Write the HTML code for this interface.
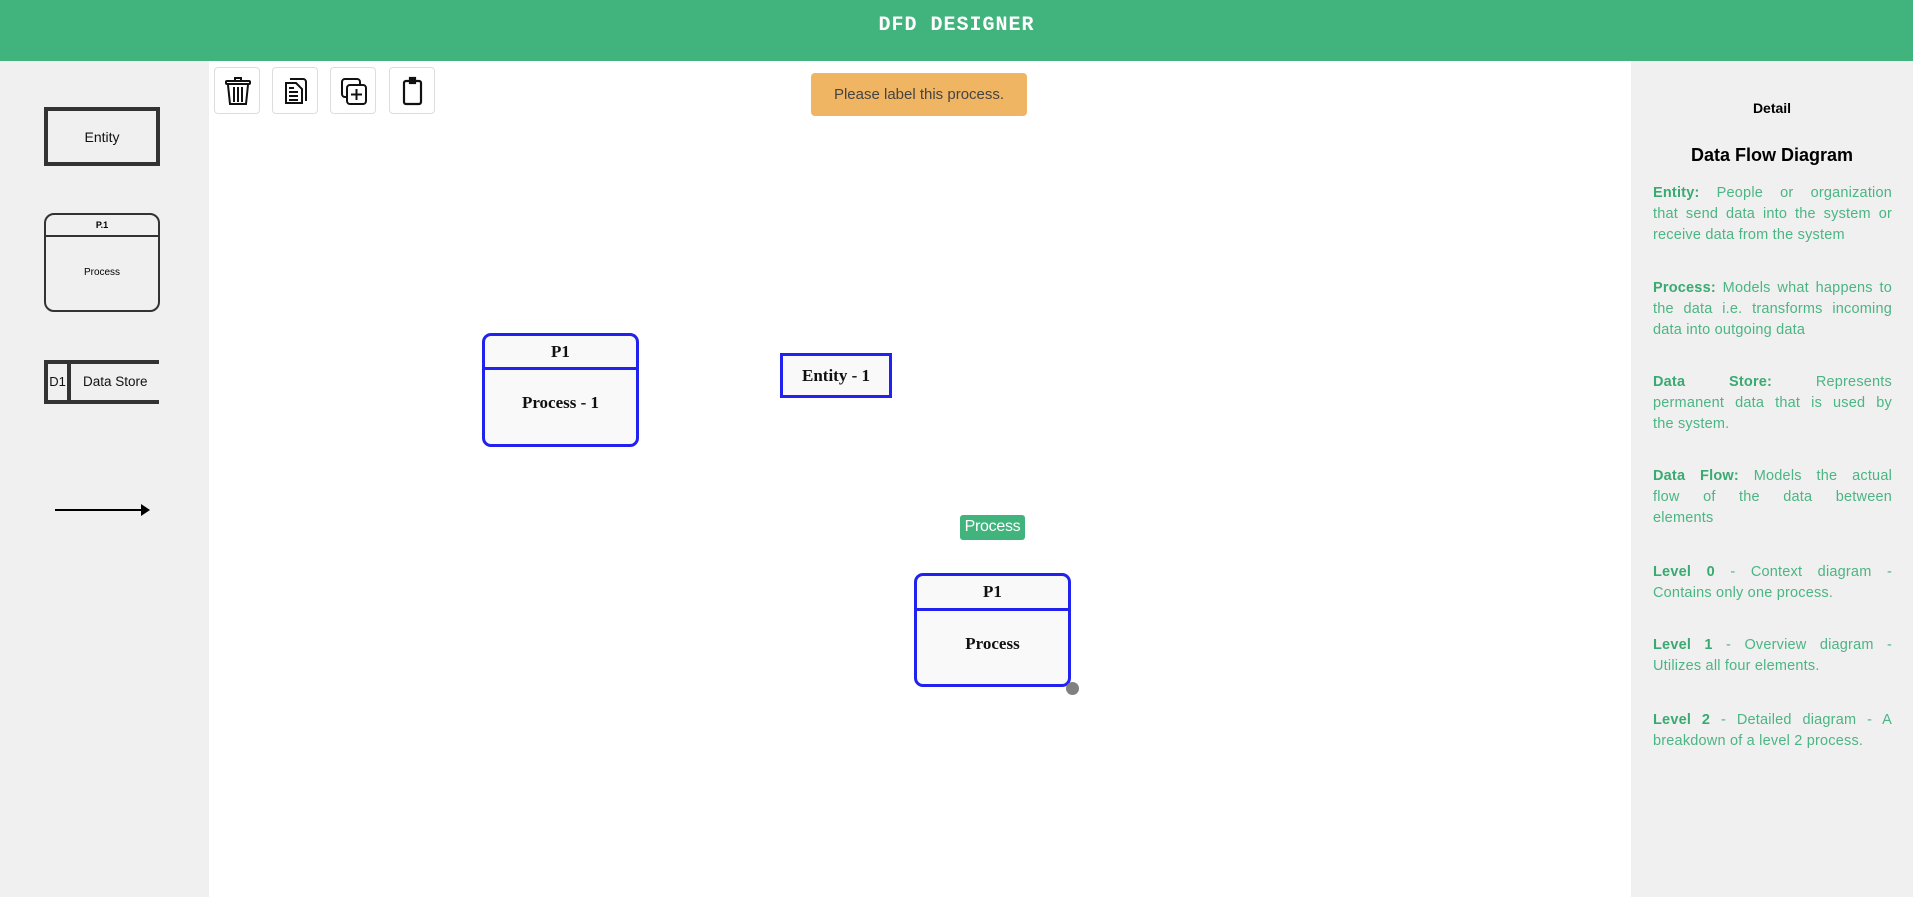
<!DOCTYPE html>
<html><head><meta charset="utf-8"><style>
*{margin:0;padding:0;box-sizing:border-box}
body{width:1913px;height:897px;position:relative;background:#eff0ef;font-family:"Liberation Sans",sans-serif;overflow:hidden}
.abs{position:absolute}
#hdr{left:0;top:0;width:1913px;height:61px;background:#41b37c;color:#fff;font-family:"Liberation Mono",monospace;font-weight:bold;font-size:20px;text-align:center;line-height:52px;letter-spacing:1px}
#canvas{left:209px;top:61px;width:1422px;height:836px;background:#fff}
.btn{width:46px;height:47px;top:67px;border:1px solid #ddd;border-radius:4px;background:#fff}
.btn svg{position:absolute;left:8px;top:8px}
.toast{left:811px;top:73px;width:216px;height:43px;background:#f0b562;border-radius:4px;color:#444;font-size:15px;text-align:center;line-height:43px}
.pal{border:3px solid #333;}
.node{border:3px solid #2222ee;background:#f9f9f9;font-family:"Liberation Serif",serif;font-weight:bold;color:#111;text-align:center}
.p{left:1653px;width:239px;font-size:14.5px;line-height:21px;color:#4cb584;letter-spacing:0.2px}
.p div{white-space:nowrap;text-align:justify;text-align-last:justify;height:21px}
.p div.l{text-align-last:left}
.p b{color:#3aaa72}
</style></head><body>
<div id="hdr" class="abs">DFD DESIGNER</div>
<div id="canvas" class="abs"></div>

<div class="abs btn" style="left:214px"><svg width="30" height="30" viewBox="0 0 30 30" fill="none" stroke="#111" stroke-width="2"><rect x="3" y="5" width="24" height="3" rx="1"/><path d="M12 5V2h6v3"/><path d="M5 9l2 19h16l2-19"/><path d="M11 11v15M15 11v15M19 11v15"/></svg></div>
<div class="abs btn" style="left:272px"><svg width="30" height="30" viewBox="0 0 30 30" fill="none" stroke="#111" stroke-width="2"><path d="M9 3h13a3 3 0 0 1 3 3v19"/><path d="M5 7h10l6 6v14H5z"/><path d="M8 16h9M8 20h9M8 24h9M8 12h5"/></svg></div>
<div class="abs btn" style="left:330px"><svg width="30" height="30" viewBox="0 0 30 30" fill="none" stroke="#111" stroke-width="2"><rect x="3" y="3" width="18" height="18" rx="3"/><rect x="8" y="9" width="19" height="19" rx="3" fill="#fff"/><path d="M17.5 13v11M12 18.5h11"/></svg></div>
<div class="abs btn" style="left:389px"><svg width="30" height="30" viewBox="0 0 30 30" fill="none" stroke="#111" stroke-width="2.2"><rect x="6" y="5" width="17" height="23" rx="2"/><rect x="12" y="2" width="5" height="5" fill="#111"/></svg></div>

<div class="abs toast">Please label this process.</div>

<div class="abs pal" style="left:44px;top:107px;width:116px;height:59px;font-size:14px;text-align:center;line-height:53px;color:#111;border-width:4px">Entity</div>
<div class="abs pal" style="left:44px;top:213px;width:116px;height:99px;border-radius:10px;border-width:2px">
 <div style="height:22px;border-bottom:2px solid #333;font-size:9px;font-weight:bold;text-align:center;line-height:20px">P.1</div>
 <div style="font-size:10px;text-align:center;line-height:71px">Process</div>
</div>
<div class="abs" style="left:44px;top:360px;width:115px;height:44px;border-top:4px solid #333;border-bottom:4px solid #333;border-left:4px solid #333;font-size:14px;color:#111">
 <div class="abs" style="left:0;top:0;width:23px;height:36px;border-right:4px solid #333;line-height:36px;text-align:center;font-size:13px">D1</div>
 <div class="abs" style="left:35px;top:0;line-height:36px;font-size:13.5px">Data Store</div>
</div>
<svg class="abs" style="left:50px;top:500px" width="110" height="20"><line x1="5" y1="10" x2="92" y2="10" stroke="#000" stroke-width="2"/><path d="M91 4l9 6-9 6z" fill="#000"/></svg>

<div class="abs node" style="left:482px;top:333px;width:157px;height:114px;border-radius:9px">
 <div style="height:34px;border-bottom:3px solid #2222ee;font-size:17px;line-height:31px">P1</div>
 <div style="font-size:17px;line-height:66px">Process - 1</div>
</div>
<div class="abs node" style="left:780px;top:353px;width:112px;height:45px;font-size:17px;line-height:39px">Entity - 1</div>
<div class="abs" style="left:960px;top:515px;width:65px;height:25px;background:#41b37c;border-radius:3px;color:#fff;font-size:16px;text-align:center;line-height:24px;letter-spacing:-0.3px">Process</div>
<div class="abs node" style="left:914px;top:573px;width:157px;height:114px;border-radius:9px">
 <div style="height:35px;border-bottom:3px solid #2222ee;font-size:17px;line-height:31px">P1</div>
 <div style="font-size:17px;line-height:66px">Process</div>
</div>
<div class="abs" style="left:1066px;top:682px;width:13px;height:13px;border-radius:50%;background:#808080"></div>

<div class="abs" style="left:1631px;top:100px;width:282px;text-align:center;font-size:14px;font-weight:bold;color:#000">Detail</div>
<div class="abs" style="left:1631px;top:145px;width:282px;text-align:center;font-size:18px;font-weight:bold;color:#000">Data Flow Diagram</div>
<div class="abs p" style="top:183px"><div><b>Entity:</b> People or organization</div><div>that send data into the system or</div><div class="l">receive data from the system</div></div>
<div class="abs p" style="top:278px"><div><b>Process:</b> Models what happens to</div><div>the data i.e. transforms incoming</div><div class="l">data into outgoing data</div></div>
<div class="abs p" style="top:372px"><div><b>Data Store:</b> Represents</div><div>permanent data that is used by</div><div class="l">the system.</div></div>
<div class="abs p" style="top:466px"><div><b>Data Flow:</b> Models the actual</div><div>flow of the data between</div><div class="l">elements</div></div>
<div class="abs p" style="top:562px"><div><b>Level 0</b> - Context diagram -</div><div class="l">Contains only one process.</div></div>
<div class="abs p" style="top:635px"><div><b>Level 1</b> - Overview diagram -</div><div class="l">Utilizes all four elements.</div></div>
<div class="abs p" style="top:710px"><div><b>Level 2</b> - Detailed diagram - A</div><div class="l">breakdown of a level 2 process.</div></div>
</body></html>
